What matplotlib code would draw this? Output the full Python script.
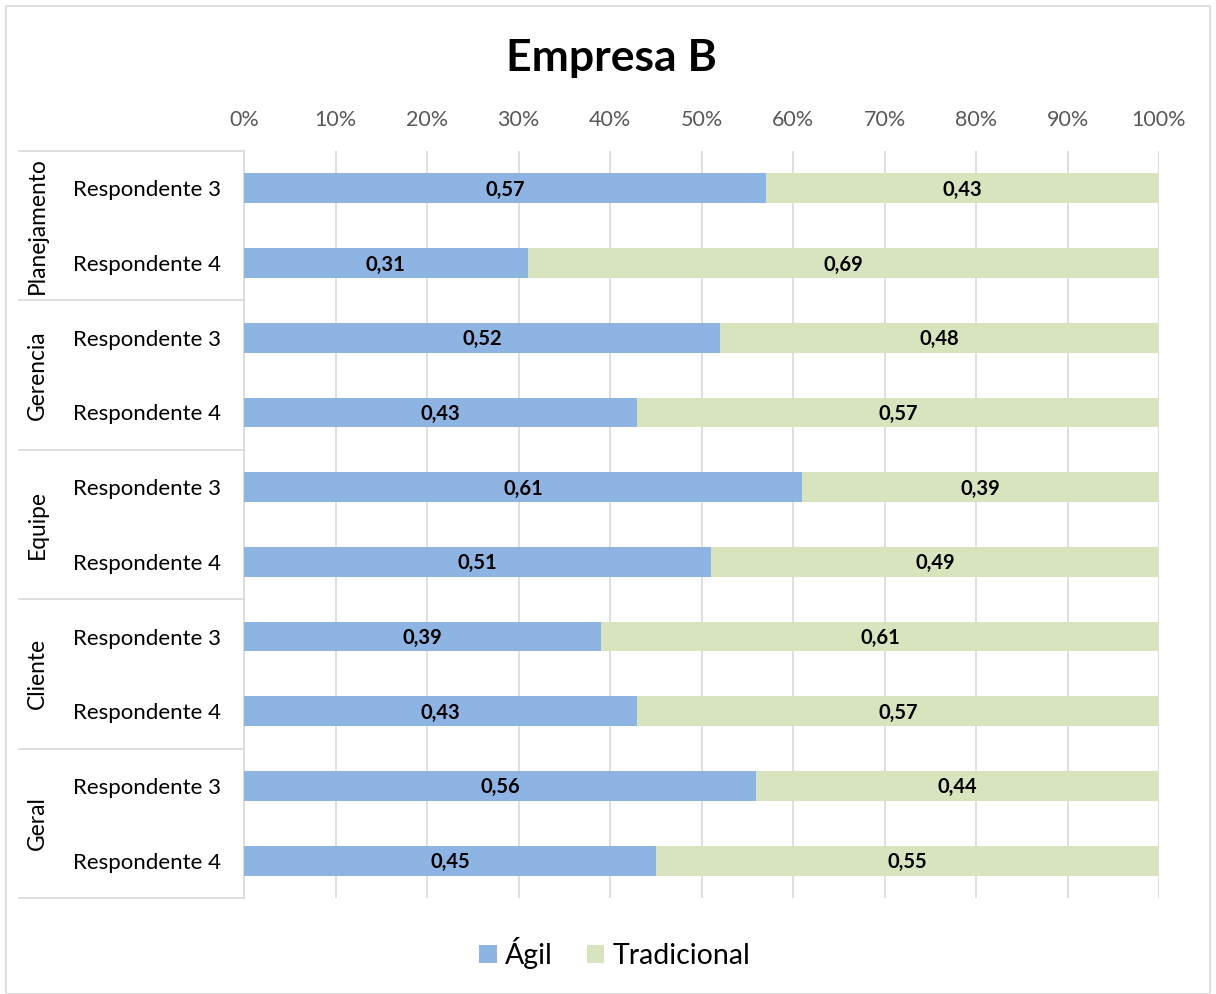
import matplotlib
matplotlib.use("Agg")
import matplotlib.pyplot as plt
from matplotlib.patches import Rectangle
import matplotlib.transforms as mtransforms
import numpy as np

plt.rcParams['font.family'] = ['Lato', 'DejaVu Sans']

groups = ["Planejamento", "Gerencia", "Equipe", "Cliente", "Geral"]
respondents = ["Respondente 3", "Respondente 4"]
agil = [0.57, 0.31, 0.52, 0.43, 0.61, 0.51, 0.39, 0.43, 0.56, 0.45]
tradicional = [0.43, 0.69, 0.48, 0.57, 0.39, 0.49, 0.61, 0.57, 0.44, 0.55]
xticks_labels = ["0%", "10%", "20%", "30%", "40%", "50%", "60%", "70%", "80%", "90%", "100%"]

c_agil = "#8EB4E3"
c_trad = "#D7E4BD"
grid_c = "#D9D9D9"

W, H = 1216, 994
fig = plt.figure(figsize=(W / 100, H / 100), dpi=100)
fig.patches.append(Rectangle((6 / W, 0), 1204 / W, 1 - 6 / H, transform=fig.transFigure,
                             fill=False, edgecolor=grid_c, linewidth=1.2))

left, right, top, bottom = 244, 1159, 151, 898
ax = fig.add_axes([left / W, 1 - bottom / H, (right - left) / W, (bottom - top) / H])

n = len(agil)
y = np.arange(n)
tot = np.array(agil) + np.array(tradicional)
a = np.array(agil) / tot
t = np.array(tradicional) / tot
ax.barh(y, a, height=0.4, color=c_agil, label="Ágil", zorder=3)
ax.barh(y, t, left=a, height=0.4, color=c_trad, label="Tradicional", zorder=3)

for i in range(n):
    ax.text(a[i] / 2, y[i] + 0.02, f"{agil[i]:.2f}".replace(".", ","), ha="center", va="center",
            fontsize=14.5, fontweight="bold", color="black", zorder=4)
    ax.text(a[i] + t[i] / 2, y[i] + 0.02, f"{tradicional[i]:.2f}".replace(".", ","), ha="center", va="center",
            fontsize=14.5, fontweight="bold", color="black", zorder=4)

ax.set_xlim(0, 1)
ax.set_ylim(n - 0.5, -0.5)
ax.set_xticks(np.linspace(0, 1, 11))
ax.set_xticklabels(xticks_labels, fontsize=15.5, color="#595959")
ax.xaxis.tick_top()
ax.tick_params(axis="x", length=0, pad=15)
ax.grid(axis="x", color=grid_c, linewidth=1.2, zorder=0)
ax.set_yticks(y)
ax.set_yticklabels([respondents[i % 2] for i in range(n)], fontsize=16, color="black")
ax.tick_params(axis="y", length=0, pad=16.5)
for s in ["top", "right", "bottom"]:
    ax.spines[s].set_visible(False)
ax.spines["left"].set_color(grid_c)
ax.spines["left"].set_linewidth(1.2)

trans = mtransforms.blended_transform_factory(ax.transAxes, ax.transData)
x0 = (19 - left) / (right - left)
for k in range(len(groups) + 1):
    yy = k * 2 - 0.5
    ax.plot([x0, 0], [yy, yy], transform=trans, color=grid_c, linewidth=1.2, clip_on=False)
for k, g in enumerate(groups):
    ax.text((37 - left) / (right - left), k * 2 + 0.5, g, transform=trans, rotation=90,
            ha="center", va="center", fontsize=16.4, color="black")

fig.text(611 / W, 1 - 58 / H, "Empresa B", ha="center", va="center", fontsize=32, fontweight="bold")

fig.legend(loc="center", bbox_to_anchor=(615 / W, 1 - 953 / H), ncol=2, frameon=False,
           fontsize=20.5, handlelength=0.6, handleheight=0.6, handletextpad=0.3, columnspacing=1.2)

fig.savefig("out.png", dpi=100)
